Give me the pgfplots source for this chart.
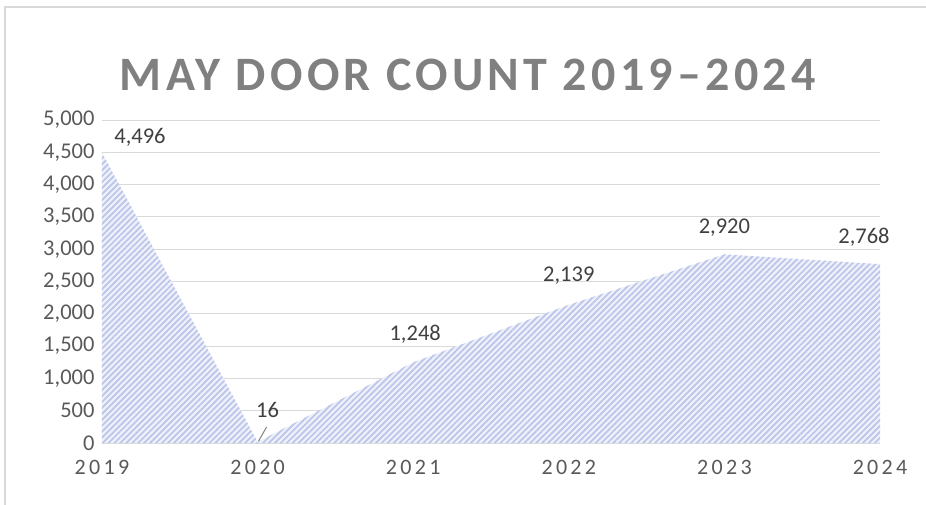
\documentclass[border=0pt]{standalone}
\usepackage{fontspec}
\setmainfont{Carlito}
\newfontfamily\titlefont[LetterSpace=9]{Carlito}
\newfontfamily\spacedfont[LetterSpace=15]{Carlito}
\usepackage{pgfplots}
\pgfplotsset{compat=1.18}
\usetikzlibrary{patterns.meta}
\definecolor{gridgray}{HTML}{D9D9D9}
\definecolor{ticktext}{HTML}{595959}
\definecolor{labeltext}{HTML}{404040}
\definecolor{hatch}{HTML}{BCC4EA}
\definecolor{hatchbg}{HTML}{EFF1FA}
\begin{document}
\begin{tikzpicture}
\path[use as bounding box] (-102pt,-61pt) rectangle (824pt,443pt);
\draw[gridgray, line width=1.2pt] (-97pt,-80pt) -- (-97pt,436pt) -- (840pt,436pt);
\begin{axis}[
    scale only axis,
    width=778pt, height=323pt,
    xmin=0, xmax=5, ymin=0, ymax=5000,
    axis line style={draw=none},
    major tick length=0pt,
    xtick={0,1,2,3,4,5},
    xticklabels={2019,2020,2021,2022,2023,2024},
    ytick={0,500,...,5000},
    ymajorgrids,
    grid style={gridgray, line width=1pt},
    /pgf/number format/assume math mode=true,
    /pgf/number format/1000 sep={,},
    yticklabel style={font=\fontsize{22.5}{26}\selectfont, color=ticktext, xshift=-4pt},
    xticklabel style={font=\spacedfont\fontsize{22}{26}\selectfont, color=ticktext, yshift=-14pt},
    clip=false,
]
\addplot[draw=none, fill=hatchbg] coordinates {
    (0,4496) (1,16) (2,1248) (3,2139) (4,2920) (5,2768)
} \closedcycle;
\addplot[draw=none, pattern={Lines[angle=45, distance=4.2pt, line width=1.7pt]}, pattern color=hatch] coordinates {
    (0,4496) (1,16) (2,1248) (3,2139) (4,2920) (5,2768)
} \closedcycle;
\draw[gray, line width=1pt] (axis cs:1,16) ++(1pt,1pt) -- ++(8pt,14pt);
\begin{scope}[every node/.style={font=\fontsize{22.5}{26}\selectfont, text=labeltext}]
\node at (axis cs:0,4496) [xshift=38pt, yshift=15pt] {4,496};
\node at (axis cs:1,16) [xshift=10pt, yshift=32pt] {16};
\node at (axis cs:2,1248) [xshift=2pt, yshift=28pt] {1,248};
\node at (axis cs:3,2139) [yshift=29pt] {2,139};
\node at (axis cs:4,2920) [yshift=27pt] {2,920};
\node at (axis cs:5,2768) [xshift=-16pt, yshift=27pt] {2,768};
\end{scope}
\node[font=\titlefont\bfseries\fontsize{48}{56}\selectfont, text=gray, anchor=base] at (rel axis cs:0.4704,1) [yshift=30pt] {MAY DOOR COUNT 2019–2024};
\end{axis}
\end{tikzpicture}
\end{document}
